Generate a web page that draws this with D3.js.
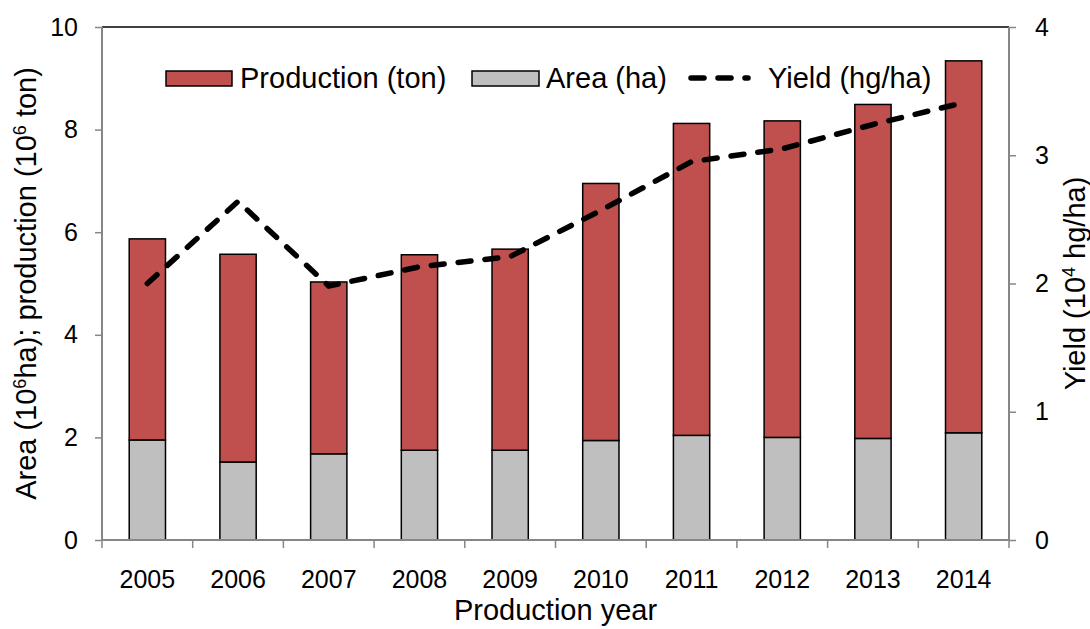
<!DOCTYPE html>
<html>
<head>
<meta charset="utf-8">
<script src="https://d3js.org/d3.v7.min.js"></script>
<style>
	body { margin: 0; background: white; }
	text { font-family: "Liberation Sans", Arial, sans-serif; fill: black; }
</style>
</head>
<body>
<div id="chart"></div>
<script>
// values
var years = ["2005", "2006", "2007", "2008", "2009", "2010", "2011", "2012", "2013", "2014"];
var area = [1.95, 1.52, 1.68, 1.75, 1.75, 1.94, 2.04, 2.00, 1.98, 2.09]; // 10^6 ha
var production = [3.92, 4.05, 3.35, 3.81, 3.92, 5.01, 6.08, 6.17, 6.51, 7.25]; // 10^6 ton, stacked on area
var yield_vals = [2.00, 2.64, 1.98, 2.13, 2.21, 2.57, 2.95, 3.05, 3.24, 3.41]; // 10^4 hg/ha
var left_ticks = [0, 2, 4, 6, 8, 10];
var right_ticks = [0, 1, 2, 3, 4];

var width = 1090;
var height = 629;
var margin = {top: 27, left: 102, right: 81, bottom: 89};
var x0 = margin.left, x1 = width - margin.right;
var y0 = height - margin.bottom, y1 = margin.top;

var axis_color = '#868686';
var red = '#C0504D';
var grey = '#BFBFBF';
var title_size = '29px';

var svg = d3.select('#chart')
	.append('svg')
	.attr('width', width)
	.attr('height', height);

var x = d3.scaleBand()
	.domain(years)
	.range([x0, x1])
	.paddingInner(0.6)
	.paddingOuter(0.3);

var x_band = d3.scaleBand().domain(years).range([x0, x1]); // for boundary ticks

var y = d3.scaleLinear().domain([0, 10]).range([y0, y1]);
var y2 = d3.scaleLinear().domain([0, 4]).range([y0, y1]);

var rows = years.map(function(d, i) {
	return {year: d, area: area[i], production: production[i], yld: yield_vals[i]};
});

// top border of the plot
svg.append('line')
	.attr('x1', x0).attr('x2', x1)
	.attr('y1', y1).attr('y2', y1)
	.style('stroke', 'black')
	.style('stroke-width', 1.5);

// bars: area at the bottom, production stacked on it
var bar = svg.selectAll('g.bar')
	.data(rows)
	.enter()
	.append('g')
	.attr('class', 'bar');

bar.append('rect')
	.attr('x', d => x(d.year))
	.attr('width', x.bandwidth())
	.attr('y', d => y(d.area))
	.attr('height', d => y(0) - y(d.area))
	.style('fill', grey)
	.style('stroke', 'black')
	.style('stroke-width', 1.5);

bar.append('rect')
	.attr('x', d => x(d.year))
	.attr('width', x.bandwidth())
	.attr('y', d => y(d.area + d.production))
	.attr('height', d => y(d.area) - y(d.area + d.production))
	.style('fill', red)
	.style('stroke', 'black')
	.style('stroke-width', 1.5);

// axes
var left_axis = svg.append('g')
	.attr('transform', 'translate(' + x0 + ',0)')
	.call(d3.axisLeft(y).tickValues(left_ticks).tickFormat(d3.format('d')).tickSize(7).tickPadding(17));

var right_axis = svg.append('g')
	.attr('transform', 'translate(' + x1 + ',0)')
	.call(d3.axisRight(y2).tickValues(right_ticks).tickFormat(d3.format('d')).tickSize(7).tickPadding(19));

var bottom_axis = svg.append('g')
	.attr('transform', 'translate(0,' + y0 + ')')
	.call(d3.axisBottom(x).tickSize(0).tickPadding(30));

// category boundary ticks
svg.append('g')
	.selectAll('line')
	.data(years.concat(['end']))
	.enter()
	.append('line')
	.attr('x1', (d, i) => i < years.length ? x_band(d) : x1)
	.attr('x2', (d, i) => i < years.length ? x_band(d) : x1)
	.attr('y1', y0)
	.attr('y2', y0 + 8)
	.style('stroke', axis_color)
	.style('stroke-width', 1.5);

[left_axis, right_axis, bottom_axis].forEach(function(a) {
	a.selectAll('path.domain').style('stroke', axis_color).style('stroke-width', 2);
	a.selectAll('.tick line').style('stroke', axis_color).style('stroke-width', 1.5);
	a.selectAll('.tick text')
		.style('font-size', '25px')
		.style('font-family', '"Liberation Sans", Arial, sans-serif')
		.style('fill', 'black');
});
bottom_axis.select('path.domain').attr('d', 'M' + x0 + ',0H' + x1);
left_axis.select('path.domain').attr('d', 'M0,' + y0 + 'V' + y1);
right_axis.select('path.domain').attr('d', 'M0,' + y0 + 'V' + y1);

// yield line on right axis
var line = d3.line()
	.x(d => x(d.year) + x.bandwidth() / 2)
	.y(d => y2(d.yld));

svg.append('path')
	.datum(rows)
	.attr('d', line)
	.style('fill', 'none')
	.style('stroke', 'black')
	.style('stroke-width', 5.5)
	.style('stroke-linecap', 'round')
	.style('stroke-dasharray', '13,14');

// legend
var legend = svg.append('g').attr('transform', 'translate(0,78)');
legend.append('rect')
	.attr('x', 166).attr('y', -7).attr('width', 66).attr('height', 15)
	.style('fill', red).style('stroke', 'black').style('stroke-width', 1.5);
legend.append('text')
	.attr('x', 240).attr('y', 10)
	.style('font-size', title_size)
	.text('Production (ton)');
legend.append('rect')
	.attr('x', 472).attr('y', -7).attr('width', 67).attr('height', 15)
	.style('fill', grey).style('stroke', 'black').style('stroke-width', 1.5);
legend.append('text')
	.attr('x', 546).attr('y', 10)
	.style('font-size', title_size)
	.text('Area (ha)');
legend.append('line')
	.attr('x1', 691).attr('x2', 748).attr('y1', 0).attr('y2', 0)
	.style('stroke', 'black')
	.style('stroke-width', 5.5)
	.style('stroke-linecap', 'round')
	.style('stroke-dasharray', '13,14');
legend.append('text')
	.attr('x', 768).attr('y', 10)
	.style('font-size', title_size)
	.text('Yield (hg/ha)');

// axis titles
svg.append('text')
	.attr('x', (x0 + x1) / 2)
	.attr('y', 620)
	.attr('text-anchor', 'middle')
	.style('font-size', title_size)
	.text('Production year');

var lt = svg.append('text')
	.attr('transform', 'translate(36,' + ((y0 + y1) / 2) + ') rotate(-90)')
	.attr('text-anchor', 'middle')
	.style('font-size', title_size);
lt.append('tspan').text('Area (10');
lt.append('tspan').attr('dy', -10).style('font-size', '18px').text('6');
lt.append('tspan').attr('dy', 10).text('ha); production (10');
lt.append('tspan').attr('dy', -10).style('font-size', '18px').text('6');
lt.append('tspan').attr('dy', 10).text(' ton)');

var rt = svg.append('text')
	.attr('transform', 'translate(1085,' + ((y0 + y1) / 2) + ') rotate(-90)')
	.attr('text-anchor', 'middle')
	.style('font-size', title_size);
rt.append('tspan').text('Yield (10');
rt.append('tspan').attr('dy', -10).style('font-size', '18px').text('4');
rt.append('tspan').attr('dy', 10).text(' hg/ha)');
</script>
</body>
</html>
